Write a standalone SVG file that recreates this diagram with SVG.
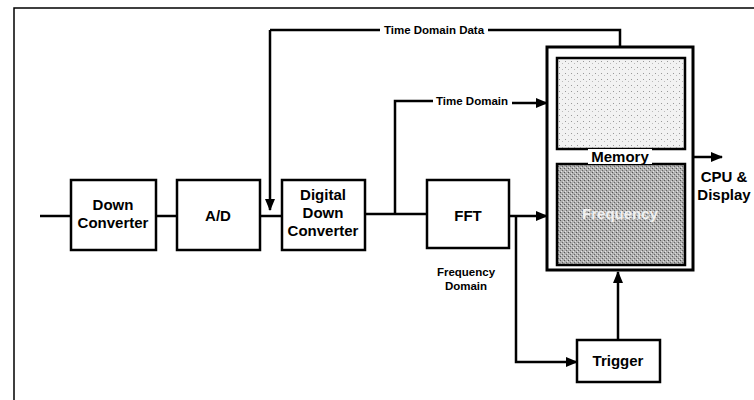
<svg xmlns="http://www.w3.org/2000/svg" width="754" height="400" viewBox="0 0 754 400">
<defs>
<style>
.box{fill:#fff;stroke:#000;stroke-width:2.5}
.ln{fill:none;stroke:#000;stroke-width:2.5}
.t{font-family:"Liberation Sans",Arial,sans-serif;font-weight:bold;font-size:15px;text-anchor:middle;fill:#000}
.s{font-family:"Liberation Sans",Arial,sans-serif;font-weight:bold;font-size:11.5px;fill:#000}
</style>
<marker id="ah" markerWidth="12" markerHeight="10" refX="11" refY="5" orient="auto" markerUnits="userSpaceOnUse">
<path d="M0,0 L12,5 L0,10 Z" fill="#000"/>
</marker>
<pattern id="dots1" width="6" height="6" patternUnits="userSpaceOnUse">
<rect width="6" height="6" fill="#f2f2f2"/>
<rect x="1" y="1" width="1" height="1" fill="#999"/>
<rect x="4" y="3" width="1" height="1" fill="#bbb"/>
</pattern>
<pattern id="dots2" width="4" height="4" patternUnits="userSpaceOnUse">
<rect width="4" height="4" fill="#b0b0b0"/>
<rect x="0" y="0" width="1" height="1" fill="#555"/>
<rect x="2" y="2" width="1" height="1" fill="#666"/>
<rect x="3" y="1" width="1" height="1" fill="#ddd"/>
<rect x="1" y="3" width="1" height="1" fill="#e5e5e5"/>
</pattern>
</defs>
<rect width="754" height="400" fill="#fff"/>
<path d="M14,400 V8 H754" fill="none" stroke="#000" stroke-width="1.5"/>

<g id="connectors">
<path class="ln" d="M40,216 H70"/>
<path class="ln" d="M156,216 H177"/>
<path class="ln" d="M260,216 H282"/>
<path class="ln" d="M270,30 V210" marker-end="url(#ah)"/>
<path class="ln" d="M270,30 H380"/>
<path class="ln" d="M488,30 H620 V47"/>
<path class="ln" d="M365,214 H426"/>
<path class="ln" d="M395,214 V101 H433"/>
<path class="ln" d="M512,103 H547" marker-end="url(#ah)"/>
<path class="ln" d="M508,216 H547" marker-end="url(#ah)"/>
<path class="ln" d="M516,216 V362 H577" marker-end="url(#ah)"/>
<path class="ln" d="M618,340 V272" marker-end="url(#ah)"/>
<path class="ln" d="M693,157 H722" marker-end="url(#ah)"/>
</g>

<g id="down-converter">
<rect class="box" x="71" y="180" width="85" height="70"/>
<text class="t" x="113" y="210">Down</text>
<text class="t" x="113" y="228">Converter</text>
</g>
<g id="ad">
<rect class="box" x="177" y="180" width="83" height="70"/>
<text class="t" x="218" y="221">A/D</text>
</g>
<g id="digital-down-converter">
<rect class="box" x="282" y="180" width="83" height="70"/>
<text class="t" x="323" y="200">Digital</text>
<text class="t" x="323" y="218">Down</text>
<text class="t" x="323" y="236">Converter</text>
</g>
<g id="fft">
<rect class="box" x="427" y="180" width="82" height="68"/>
<text class="t" x="468" y="221">FFT</text>
<text class="s" x="466" y="276" text-anchor="middle">Frequency</text>
<text class="s" x="466" y="290" text-anchor="middle">Domain</text>
</g>
<g id="trigger">
<rect class="box" x="577" y="340" width="83" height="42"/>
<text class="t" x="618" y="366">Trigger</text>
</g>
<g id="memory">
<rect x="547" y="47" width="146" height="223" fill="#fff" stroke="#000" stroke-width="3"/>
<rect x="557" y="58" width="128" height="91" fill="url(#dots1)" stroke="#000" stroke-width="2.5"/>
<rect x="557" y="164" width="128" height="101" fill="url(#dots2)" stroke="#000" stroke-width="2.5"/>
<rect x="588" y="149" width="64" height="15" fill="#fff"/>
<text class="t" x="620" y="162">Memory</text>
<text class="t" x="620" y="219" style="fill:#f0f0f0">Frequency</text>
</g>
<g id="labels">
<text class="s" x="434" y="34" text-anchor="middle">Time Domain Data</text>
<text class="s" x="472" y="105" text-anchor="middle">Time Domain</text>
<text class="t" x="724" y="182">CPU &amp;</text>
<text class="t" x="724" y="200">Display</text>
</g>
</svg>
